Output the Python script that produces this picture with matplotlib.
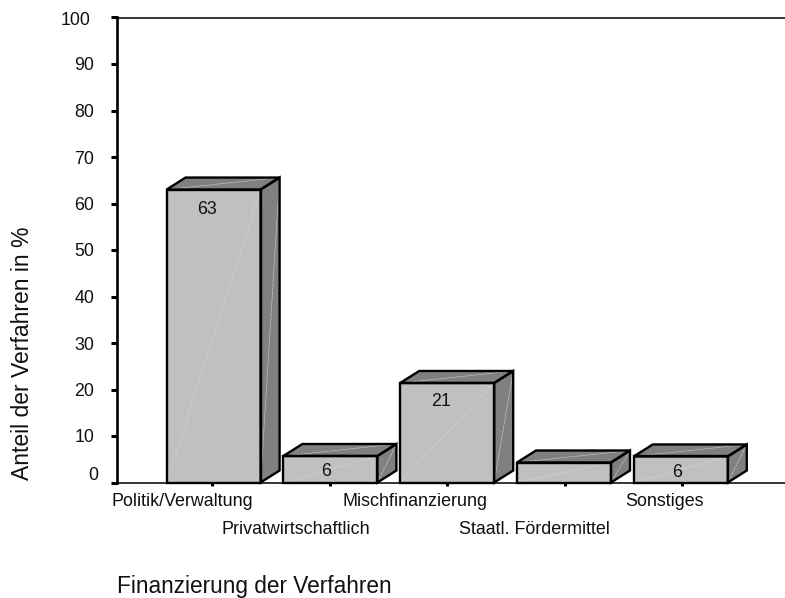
import matplotlib
matplotlib.use('Agg')
import matplotlib.pyplot as plt
from matplotlib.patches import Polygon
from matplotlib.transforms import ScaledTranslation

plt.rcParams['font.family'] = ['Liberation Sans', 'DejaVu Sans']

categories = ['Politik/Verwaltung', 'Privatwirtschaftlich', 'Mischfinanzierung',
              'Staatl. Fördermittel', 'Sonstiges']
heights = [63, 5.7, 21.4, 4.3, 5.6]
value_labels = ['63', '6', '21', '', '6']
y_ticks = [0, 10, 20, 30, 40, 50, 60, 70, 80, 90, 100]

W, H = 785, 598
DPI = 100

fig = plt.figure(figsize=(W / DPI, H / DPI), dpi=DPI)
ax = fig.add_axes([117 / W, (H - 482.5) / H, (W - 117) / W, 465 / H])
ax.set_xlim(-0.81, 4.875)
ax.set_ylim(0, 100)

# 3d look: depth of the boxes in data units
bar_w = 0.8
dx = 19 / 117.5
dy = 12 / 4.65
front_col = '#c0c0c0'
back_col = '#808080'
lw = 1.7


def draw_box(x, h):
    l, r = x - bar_w / 2, x + bar_w / 2
    faces = [
        ([(l, 0), (r, 0), (r, h), (l, h)], front_col),
        ([(r, 0), (r + dx, dy), (r + dx, h + dy), (r, h)], back_col),
        ([(l, h), (r, h), (r + dx, h + dy), (l + dx, h + dy)], back_col),
    ]
    for pts, col in faces:
        # faint diagonal seam on each face, kept under the outline
        ax.add_patch(Polygon(pts, closed=True, facecolor=col, edgecolor='none',
                             clip_on=False, zorder=3))
        ax.plot([pts[0][0], pts[2][0]], [pts[0][1], pts[2][1]], color='#d8d8d8',
                lw=0.5, ls=(0, (5, 1)), alpha=0.8, zorder=3.2, clip_on=False)
        ax.add_patch(Polygon(pts, closed=True, facecolor='none', edgecolor='black',
                             linewidth=lw, joinstyle='miter', clip_on=False, zorder=3.5))


# boxes are spaced a little tighter than the ticks in the original
for i, h in enumerate(heights):
    draw_box(0.012 + i * 0.994, h)

# value labels sit a bit left of centre, under the top edge
drop = [20, 16, 19, 0, 16]
shift = [-5, -4, -6, 0, -5]
for i, lab in enumerate(value_labels):
    if lab:
        ax.annotate(lab, xy=(i, heights[i]), xytext=(shift[i], -drop[i]),
                    textcoords='offset pixels', ha='center', va='center',
                    fontsize=12.8, color='#111111', zorder=5)

ax.spines['right'].set_visible(False)
ax.spines['left'].set_linewidth(1.9)
ax.spines['bottom'].set_linewidth(1.1)
ax.spines['top'].set_linewidth(1.1)

ax.set_yticks(y_ticks)
ax.tick_params(axis='y', direction='out', length=4.5, width=2.2, labelsize=12.8,
               pad=12, labelcolor='#111111')
ax.set_xticks(range(len(categories)))
ax.set_xticklabels(categories)
ax.tick_params(axis='x', direction='out', length=2.2, width=2.2, labelsize=12.9,
               pad=5, labelcolor='#111111')

# labels are staggered on two rows and pushed left of their ticks
label_dx = [-30, -34, -32, -30, -18]
label_dy = [0, -29, 0, -29, 0]
for lab, ox, oy in zip(ax.get_xticklabels(), label_dx, label_dy):
    lab.set_transform(lab.get_transform() + ScaledTranslation(ox / DPI, oy / DPI, fig.dpi_scale_trans))

# the 0 and 100 labels are off the common right edge in the original
y_labs = ax.get_yticklabels()
y_labs[0].set_transform(y_labs[0].get_transform() + ScaledTranslation(4 / DPI, 9 / DPI, fig.dpi_scale_trans))
y_labs[-1].set_transform(y_labs[-1].get_transform() + ScaledTranslation(-4 / DPI, -1 / DPI, fig.dpi_scale_trans))

fig.text(117 / W, 1 - 593 / H, 'Finanzierung der Verfahren', fontsize=16.3,
         ha='left', va='baseline', color='#111111')
fig.text(22.5 / W, 1 - 353 / H, 'Anteil der Verfahren in %', fontsize=16.5,
         rotation=90, ha='center', va='center', color='#111111')

fig.savefig('out.png', dpi=DPI)
